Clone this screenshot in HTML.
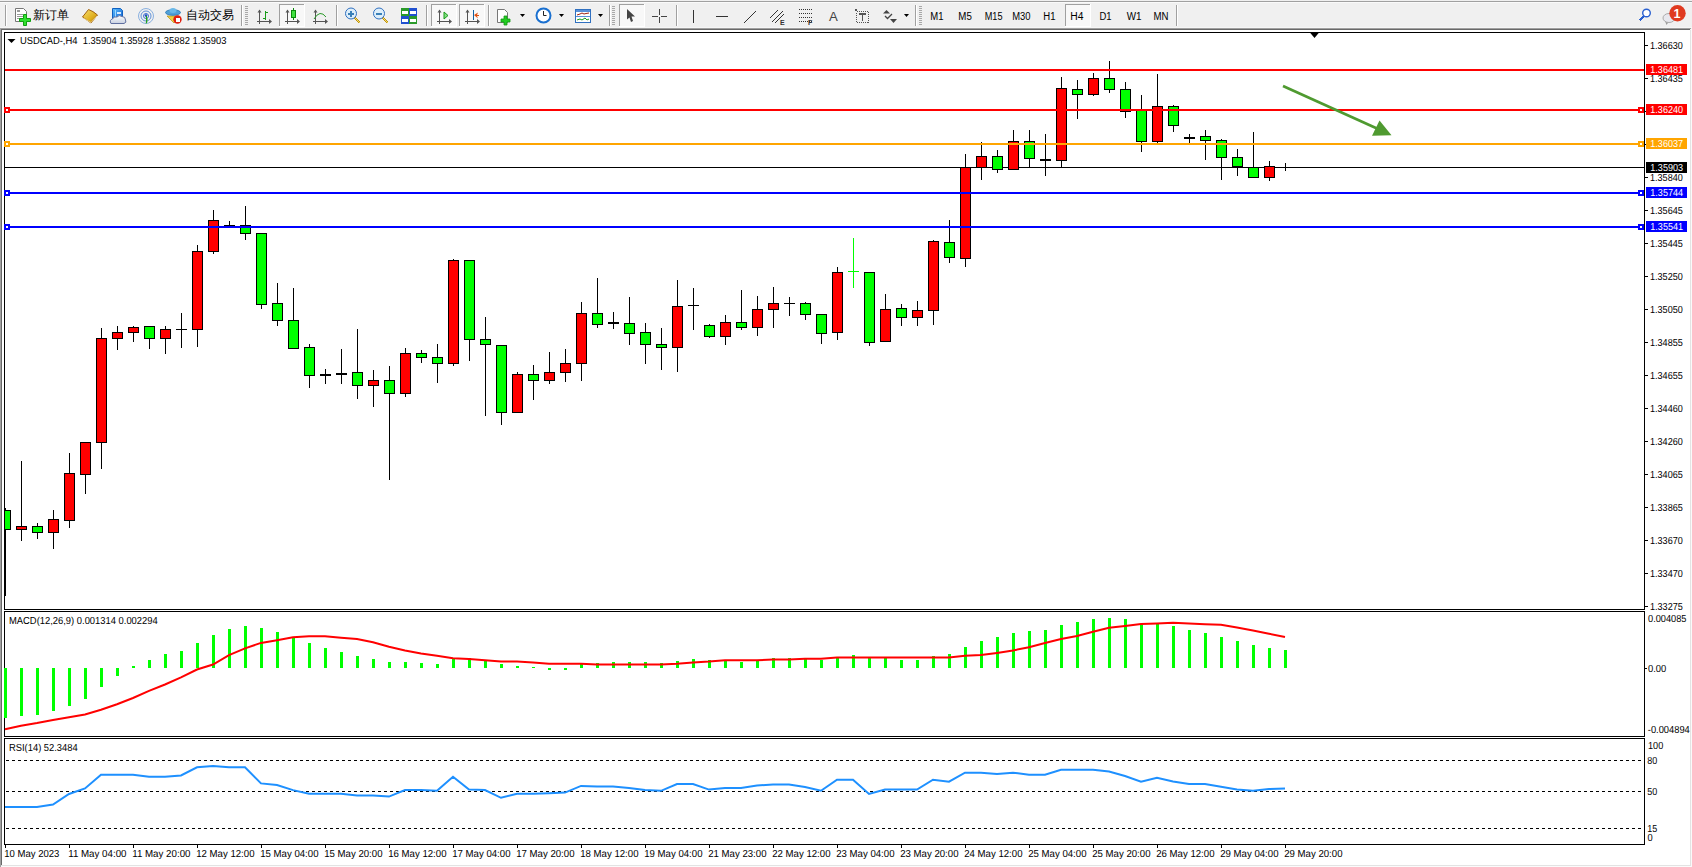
<!DOCTYPE html>
<html><head><meta charset="utf-8"><style>
html,body{margin:0;padding:0;width:1692px;height:867px;overflow:hidden;background:#fff}
svg{position:absolute;left:0;top:0;display:block}
.t{font-family:'Liberation Sans', sans-serif;font-size:10.2px;fill:#000;text-rendering:geometricPrecision}
.tb{font-family:'Liberation Sans', sans-serif;font-size:11px;fill:#000}
rect,line{shape-rendering:crispEdges}
</style></head><body>
<svg width="1692" height="867" viewBox="0 0 1692 867">
<rect x="0" y="0" width="1692" height="867" fill="#f0f0f0"/>
<rect x="0" y="1" width="1692" height="1" fill="#a0a0a0"/>
<rect x="0" y="2" width="1692" height="1" fill="#fafafa"/>
<rect x="0" y="27" width="1692" height="1" fill="#f6f6f6"/>
<rect x="0" y="28" width="1691" height="1" fill="#a0a0a0"/>
<rect x="1" y="29" width="1689" height="1" fill="#696969"/>
<rect x="2" y="30" width="1688" height="835" fill="#ffffff"/>
<rect x="0" y="28" width="1" height="839" fill="#a0a0a0"/>
<rect x="1" y="29" width="1" height="837" fill="#696969"/>
<rect x="1" y="865" width="1690" height="1" fill="#e3e3e3"/>
<rect x="1" y="866" width="1691" height="1" fill="#fbfbfb"/>
<rect x="1690" y="30" width="1" height="836" fill="#e3e3e3"/>
<rect x="1691" y="29" width="1" height="838" fill="#fafafa"/>
<rect x="4.5" y="32.5" width="1640" height="577" fill="none" stroke="#000" stroke-width="1"/>
<rect x="4.5" y="611.5" width="1640" height="125" fill="none" stroke="#000" stroke-width="1"/>
<rect x="4.5" y="738.5" width="1640" height="106" fill="none" stroke="#000" stroke-width="1"/>
<rect x="1645" y="45" width="3" height="1" fill="#000"/>
<rect x="1645" y="78" width="3" height="1" fill="#000"/>
<rect x="1645" y="111" width="3" height="1" fill="#000"/>
<rect x="1645" y="144" width="3" height="1" fill="#000"/>
<rect x="1645" y="177" width="3" height="1" fill="#000"/>
<rect x="1645" y="210" width="3" height="1" fill="#000"/>
<rect x="1645" y="243" width="3" height="1" fill="#000"/>
<rect x="1645" y="276" width="3" height="1" fill="#000"/>
<rect x="1645" y="309" width="3" height="1" fill="#000"/>
<rect x="1645" y="342" width="3" height="1" fill="#000"/>
<rect x="1645" y="375" width="3" height="1" fill="#000"/>
<rect x="1645" y="408" width="3" height="1" fill="#000"/>
<rect x="1645" y="441" width="3" height="1" fill="#000"/>
<rect x="1645" y="474" width="3" height="1" fill="#000"/>
<rect x="1645" y="507" width="3" height="1" fill="#000"/>
<rect x="1645" y="540" width="3" height="1" fill="#000"/>
<rect x="1645" y="573" width="3" height="1" fill="#000"/>
<rect x="1645" y="606" width="3" height="1" fill="#000"/>
<text x="1650" y="49" class="t" textLength="32.8" lengthAdjust="spacingAndGlyphs">1.36630</text>
<text x="1650" y="82" class="t" textLength="32.8" lengthAdjust="spacingAndGlyphs">1.36435</text>
<text x="1650" y="181" class="t" textLength="32.8" lengthAdjust="spacingAndGlyphs">1.35840</text>
<text x="1650" y="214" class="t" textLength="32.8" lengthAdjust="spacingAndGlyphs">1.35645</text>
<text x="1650" y="247" class="t" textLength="32.8" lengthAdjust="spacingAndGlyphs">1.35445</text>
<text x="1650" y="280" class="t" textLength="32.8" lengthAdjust="spacingAndGlyphs">1.35250</text>
<text x="1650" y="313" class="t" textLength="32.8" lengthAdjust="spacingAndGlyphs">1.35050</text>
<text x="1650" y="346" class="t" textLength="32.8" lengthAdjust="spacingAndGlyphs">1.34855</text>
<text x="1650" y="379" class="t" textLength="32.8" lengthAdjust="spacingAndGlyphs">1.34655</text>
<text x="1650" y="412" class="t" textLength="32.8" lengthAdjust="spacingAndGlyphs">1.34460</text>
<text x="1650" y="445" class="t" textLength="32.8" lengthAdjust="spacingAndGlyphs">1.34260</text>
<text x="1650" y="478" class="t" textLength="32.8" lengthAdjust="spacingAndGlyphs">1.34065</text>
<text x="1650" y="511" class="t" textLength="32.8" lengthAdjust="spacingAndGlyphs">1.33865</text>
<text x="1650" y="544" class="t" textLength="32.8" lengthAdjust="spacingAndGlyphs">1.33670</text>
<text x="1650" y="577" class="t" textLength="32.8" lengthAdjust="spacingAndGlyphs">1.33470</text>
<text x="1650" y="610" class="t" textLength="32.8" lengthAdjust="spacingAndGlyphs">1.33275</text>
<rect x="5" y="167" width="1639" height="1" fill="#000"/>
<rect x="5" y="508" width="1" height="88" fill="#000"/>
<rect x="4.5" y="510.5" width="6" height="19" fill="#00ff00" stroke="#000" stroke-width="1"/>
<rect x="21" y="461" width="1" height="80" fill="#000"/>
<rect x="16.5" y="526.5" width="10" height="3" fill="#ff0000" stroke="#000" stroke-width="1"/>
<rect x="37" y="523" width="1" height="16" fill="#000"/>
<rect x="32.5" y="526.5" width="10" height="6" fill="#00ff00" stroke="#000" stroke-width="1"/>
<rect x="53" y="510" width="1" height="39" fill="#000"/>
<rect x="48.5" y="519.5" width="10" height="13" fill="#ff0000" stroke="#000" stroke-width="1"/>
<rect x="69" y="453" width="1" height="75" fill="#000"/>
<rect x="64.5" y="473.5" width="10" height="47" fill="#ff0000" stroke="#000" stroke-width="1"/>
<rect x="85" y="442" width="1" height="52" fill="#000"/>
<rect x="80.5" y="442.5" width="10" height="32" fill="#ff0000" stroke="#000" stroke-width="1"/>
<rect x="101" y="328" width="1" height="141" fill="#000"/>
<rect x="96.5" y="338.5" width="10" height="104" fill="#ff0000" stroke="#000" stroke-width="1"/>
<rect x="117" y="326" width="1" height="24" fill="#000"/>
<rect x="112.5" y="332.5" width="10" height="6" fill="#ff0000" stroke="#000" stroke-width="1"/>
<rect x="133" y="326" width="1" height="16" fill="#000"/>
<rect x="128.5" y="327.5" width="10" height="5" fill="#ff0000" stroke="#000" stroke-width="1"/>
<rect x="149" y="326" width="1" height="23" fill="#000"/>
<rect x="144.5" y="326.5" width="10" height="12" fill="#00ff00" stroke="#000" stroke-width="1"/>
<rect x="165" y="326" width="1" height="28" fill="#000"/>
<rect x="160.5" y="329.5" width="10" height="9" fill="#ff0000" stroke="#000" stroke-width="1"/>
<rect x="181" y="313" width="1" height="35" fill="#000"/>
<rect x="176" y="329" width="11" height="1" fill="#000"/>
<rect x="197" y="245" width="1" height="102" fill="#000"/>
<rect x="192.5" y="251.5" width="10" height="78" fill="#ff0000" stroke="#000" stroke-width="1"/>
<rect x="213" y="210" width="1" height="44" fill="#000"/>
<rect x="208.5" y="220.5" width="10" height="31" fill="#ff0000" stroke="#000" stroke-width="1"/>
<rect x="229" y="221" width="1" height="5" fill="#000"/>
<rect x="224" y="225" width="11" height="1" fill="#000"/>
<rect x="245" y="206" width="1" height="34" fill="#000"/>
<rect x="240.5" y="225.5" width="10" height="8" fill="#00ff00" stroke="#000" stroke-width="1"/>
<rect x="261" y="233" width="1" height="76" fill="#000"/>
<rect x="256.5" y="233.5" width="10" height="71" fill="#00ff00" stroke="#000" stroke-width="1"/>
<rect x="277" y="283" width="1" height="43" fill="#000"/>
<rect x="272.5" y="303.5" width="10" height="17" fill="#00ff00" stroke="#000" stroke-width="1"/>
<rect x="293" y="288" width="1" height="61" fill="#000"/>
<rect x="288.5" y="320.5" width="10" height="28" fill="#00ff00" stroke="#000" stroke-width="1"/>
<rect x="309" y="344" width="1" height="44" fill="#000"/>
<rect x="304.5" y="347.5" width="10" height="28" fill="#00ff00" stroke="#000" stroke-width="1"/>
<rect x="325" y="369" width="1" height="15" fill="#000"/>
<rect x="320" y="374" width="11" height="2" fill="#000"/>
<rect x="341" y="349" width="1" height="35" fill="#000"/>
<rect x="336" y="373" width="11" height="2" fill="#000"/>
<rect x="357" y="329" width="1" height="70" fill="#000"/>
<rect x="352.5" y="372.5" width="10" height="13" fill="#00ff00" stroke="#000" stroke-width="1"/>
<rect x="373" y="370" width="1" height="37" fill="#000"/>
<rect x="368.5" y="380.5" width="10" height="5" fill="#ff0000" stroke="#000" stroke-width="1"/>
<rect x="389" y="366" width="1" height="114" fill="#000"/>
<rect x="384.5" y="380.5" width="10" height="13" fill="#00ff00" stroke="#000" stroke-width="1"/>
<rect x="405" y="348" width="1" height="49" fill="#000"/>
<rect x="400.5" y="353.5" width="10" height="40" fill="#ff0000" stroke="#000" stroke-width="1"/>
<rect x="421" y="350" width="1" height="13" fill="#000"/>
<rect x="416.5" y="353.5" width="10" height="4" fill="#00ff00" stroke="#000" stroke-width="1"/>
<rect x="437" y="344" width="1" height="39" fill="#000"/>
<rect x="432.5" y="357.5" width="10" height="6" fill="#00ff00" stroke="#000" stroke-width="1"/>
<rect x="453" y="259" width="1" height="107" fill="#000"/>
<rect x="448.5" y="260.5" width="10" height="103" fill="#ff0000" stroke="#000" stroke-width="1"/>
<rect x="469" y="260" width="1" height="101" fill="#000"/>
<rect x="464.5" y="260.5" width="10" height="79" fill="#00ff00" stroke="#000" stroke-width="1"/>
<rect x="485" y="317" width="1" height="99" fill="#000"/>
<rect x="480.5" y="339.5" width="10" height="5" fill="#00ff00" stroke="#000" stroke-width="1"/>
<rect x="501" y="345" width="1" height="80" fill="#000"/>
<rect x="496.5" y="345.5" width="10" height="67" fill="#00ff00" stroke="#000" stroke-width="1"/>
<rect x="517" y="372" width="1" height="41" fill="#000"/>
<rect x="512.5" y="374.5" width="10" height="38" fill="#ff0000" stroke="#000" stroke-width="1"/>
<rect x="533" y="365" width="1" height="35" fill="#000"/>
<rect x="528.5" y="374.5" width="10" height="6" fill="#00ff00" stroke="#000" stroke-width="1"/>
<rect x="549" y="352" width="1" height="32" fill="#000"/>
<rect x="544.5" y="372.5" width="10" height="8" fill="#ff0000" stroke="#000" stroke-width="1"/>
<rect x="565" y="349" width="1" height="33" fill="#000"/>
<rect x="560.5" y="363.5" width="10" height="9" fill="#ff0000" stroke="#000" stroke-width="1"/>
<rect x="581" y="302" width="1" height="79" fill="#000"/>
<rect x="576.5" y="313.5" width="10" height="50" fill="#ff0000" stroke="#000" stroke-width="1"/>
<rect x="597" y="278" width="1" height="50" fill="#000"/>
<rect x="592.5" y="313.5" width="10" height="11" fill="#00ff00" stroke="#000" stroke-width="1"/>
<rect x="613" y="312" width="1" height="17" fill="#000"/>
<rect x="608" y="322" width="11" height="2" fill="#000"/>
<rect x="629" y="297" width="1" height="48" fill="#000"/>
<rect x="624.5" y="323.5" width="10" height="10" fill="#00ff00" stroke="#000" stroke-width="1"/>
<rect x="645" y="323" width="1" height="41" fill="#000"/>
<rect x="640.5" y="332.5" width="10" height="12" fill="#00ff00" stroke="#000" stroke-width="1"/>
<rect x="661" y="328" width="1" height="42" fill="#000"/>
<rect x="656.5" y="344.5" width="10" height="3" fill="#00ff00" stroke="#000" stroke-width="1"/>
<rect x="677" y="280" width="1" height="92" fill="#000"/>
<rect x="672.5" y="306.5" width="10" height="41" fill="#ff0000" stroke="#000" stroke-width="1"/>
<rect x="693" y="288" width="1" height="42" fill="#000"/>
<rect x="688" y="305" width="11" height="1" fill="#000"/>
<rect x="709" y="324" width="1" height="14" fill="#000"/>
<rect x="704.5" y="325.5" width="10" height="11" fill="#00ff00" stroke="#000" stroke-width="1"/>
<rect x="725" y="315" width="1" height="30" fill="#000"/>
<rect x="720.5" y="322.5" width="10" height="14" fill="#ff0000" stroke="#000" stroke-width="1"/>
<rect x="741" y="290" width="1" height="40" fill="#000"/>
<rect x="736.5" y="322.5" width="10" height="5" fill="#00ff00" stroke="#000" stroke-width="1"/>
<rect x="757" y="296" width="1" height="40" fill="#000"/>
<rect x="752.5" y="309.5" width="10" height="18" fill="#ff0000" stroke="#000" stroke-width="1"/>
<rect x="773" y="287" width="1" height="41" fill="#000"/>
<rect x="768.5" y="303.5" width="10" height="6" fill="#ff0000" stroke="#000" stroke-width="1"/>
<rect x="789" y="297" width="1" height="19" fill="#000"/>
<rect x="784" y="303" width="11" height="1" fill="#000"/>
<rect x="805" y="302" width="1" height="18" fill="#000"/>
<rect x="800.5" y="303.5" width="10" height="11" fill="#00ff00" stroke="#000" stroke-width="1"/>
<rect x="821" y="314" width="1" height="30" fill="#000"/>
<rect x="816.5" y="314.5" width="10" height="19" fill="#00ff00" stroke="#000" stroke-width="1"/>
<rect x="837" y="267" width="1" height="73" fill="#000"/>
<rect x="832.5" y="272.5" width="10" height="60" fill="#ff0000" stroke="#000" stroke-width="1"/>
<rect x="853" y="238" width="1" height="50" fill="#00ff00"/>
<rect x="848" y="271" width="11" height="1" fill="#00ff00"/>
<rect x="869" y="272" width="1" height="74" fill="#000"/>
<rect x="864.5" y="272.5" width="10" height="70" fill="#00ff00" stroke="#000" stroke-width="1"/>
<rect x="885" y="294" width="1" height="48" fill="#000"/>
<rect x="880.5" y="309.5" width="10" height="32" fill="#ff0000" stroke="#000" stroke-width="1"/>
<rect x="901" y="304" width="1" height="22" fill="#000"/>
<rect x="896.5" y="308.5" width="10" height="9" fill="#00ff00" stroke="#000" stroke-width="1"/>
<rect x="917" y="301" width="1" height="25" fill="#000"/>
<rect x="912.5" y="310.5" width="10" height="7" fill="#ff0000" stroke="#000" stroke-width="1"/>
<rect x="933" y="240" width="1" height="85" fill="#000"/>
<rect x="928.5" y="241.5" width="10" height="69" fill="#ff0000" stroke="#000" stroke-width="1"/>
<rect x="949" y="220" width="1" height="43" fill="#000"/>
<rect x="944.5" y="242.5" width="10" height="15" fill="#00ff00" stroke="#000" stroke-width="1"/>
<rect x="965" y="154" width="1" height="113" fill="#000"/>
<rect x="960.5" y="167.5" width="10" height="91" fill="#ff0000" stroke="#000" stroke-width="1"/>
<rect x="981" y="142" width="1" height="38" fill="#000"/>
<rect x="976.5" y="156.5" width="10" height="11" fill="#ff0000" stroke="#000" stroke-width="1"/>
<rect x="997" y="150" width="1" height="23" fill="#000"/>
<rect x="992.5" y="156.5" width="10" height="13" fill="#00ff00" stroke="#000" stroke-width="1"/>
<rect x="1013" y="130" width="1" height="40" fill="#000"/>
<rect x="1008.5" y="141.5" width="10" height="28" fill="#ff0000" stroke="#000" stroke-width="1"/>
<rect x="1029" y="130" width="1" height="38" fill="#000"/>
<rect x="1024.5" y="141.5" width="10" height="17" fill="#00ff00" stroke="#000" stroke-width="1"/>
<rect x="1045" y="134" width="1" height="42" fill="#000"/>
<rect x="1040" y="159" width="11" height="2" fill="#000"/>
<rect x="1061" y="77" width="1" height="90" fill="#000"/>
<rect x="1056.5" y="88.5" width="10" height="72" fill="#ff0000" stroke="#000" stroke-width="1"/>
<rect x="1077" y="80" width="1" height="39" fill="#000"/>
<rect x="1072.5" y="89.5" width="10" height="5" fill="#00ff00" stroke="#000" stroke-width="1"/>
<rect x="1093" y="73" width="1" height="23" fill="#000"/>
<rect x="1088.5" y="78.5" width="10" height="16" fill="#ff0000" stroke="#000" stroke-width="1"/>
<rect x="1109" y="61" width="1" height="32" fill="#000"/>
<rect x="1104.5" y="78.5" width="10" height="11" fill="#00ff00" stroke="#000" stroke-width="1"/>
<rect x="1125" y="82" width="1" height="36" fill="#000"/>
<rect x="1120.5" y="89.5" width="10" height="22" fill="#00ff00" stroke="#000" stroke-width="1"/>
<rect x="1141" y="95" width="1" height="57" fill="#000"/>
<rect x="1136.5" y="110.5" width="10" height="31" fill="#00ff00" stroke="#000" stroke-width="1"/>
<rect x="1157" y="74" width="1" height="69" fill="#000"/>
<rect x="1152.5" y="106.5" width="10" height="35" fill="#ff0000" stroke="#000" stroke-width="1"/>
<rect x="1173" y="105" width="1" height="27" fill="#000"/>
<rect x="1168.5" y="106.5" width="10" height="19" fill="#00ff00" stroke="#000" stroke-width="1"/>
<rect x="1189" y="134" width="1" height="9" fill="#000"/>
<rect x="1184" y="137" width="11" height="2" fill="#000"/>
<rect x="1205" y="130" width="1" height="30" fill="#000"/>
<rect x="1200.5" y="136.5" width="10" height="4" fill="#00ff00" stroke="#000" stroke-width="1"/>
<rect x="1221" y="139" width="1" height="41" fill="#000"/>
<rect x="1216.5" y="140.5" width="10" height="17" fill="#00ff00" stroke="#000" stroke-width="1"/>
<rect x="1237" y="149" width="1" height="27" fill="#000"/>
<rect x="1232.5" y="157.5" width="10" height="9" fill="#00ff00" stroke="#000" stroke-width="1"/>
<rect x="1253" y="132" width="1" height="46" fill="#000"/>
<rect x="1248.5" y="167.5" width="10" height="10" fill="#00ff00" stroke="#000" stroke-width="1"/>
<rect x="1269" y="161" width="1" height="20" fill="#000"/>
<rect x="1264.5" y="166.5" width="10" height="11" fill="#ff0000" stroke="#000" stroke-width="1"/>
<rect x="1285" y="163" width="1" height="8" fill="#000"/>
<rect x="1280" y="167" width="11" height="1" fill="#000"/>
<rect x="5" y="69" width="1639" height="2" fill="#ff0000"/>
<rect x="1646" y="64" width="41" height="11" fill="#ff0000"/>
<text x="1650.3" y="73" class="t" style="fill:#fff" textLength="32.8" lengthAdjust="spacingAndGlyphs">1.36481</text>
<rect x="5" y="109" width="1639" height="2" fill="#ff0000"/>
<rect x="4" y="107" width="6" height="6" fill="#ff0000"/>
<rect x="6" y="109" width="2" height="2" fill="#fff"/>
<rect x="1638" y="107" width="6" height="6" fill="#ff0000"/>
<rect x="1640" y="109" width="2" height="2" fill="#fff"/>
<rect x="1646" y="104" width="41" height="11" fill="#ff0000"/>
<text x="1650.3" y="113" class="t" style="fill:#fff" textLength="32.8" lengthAdjust="spacingAndGlyphs">1.36240</text>
<rect x="5" y="143" width="1639" height="2" fill="#ffa500"/>
<rect x="4" y="141" width="6" height="6" fill="#ffa500"/>
<rect x="6" y="143" width="2" height="2" fill="#fff"/>
<rect x="1638" y="141" width="6" height="6" fill="#ffa500"/>
<rect x="1640" y="143" width="2" height="2" fill="#fff"/>
<rect x="1646" y="138" width="41" height="11" fill="#ffa500"/>
<text x="1650.3" y="147" class="t" style="fill:#fff" textLength="32.8" lengthAdjust="spacingAndGlyphs">1.36037</text>
<rect x="1646" y="162" width="41" height="11" fill="#000"/>
<text x="1650.3" y="171" class="t" style="fill:#fff" textLength="32.8" lengthAdjust="spacingAndGlyphs">1.35903</text>
<rect x="5" y="192" width="1639" height="2" fill="#0000ff"/>
<rect x="4" y="190" width="6" height="6" fill="#0000ff"/>
<rect x="6" y="192" width="2" height="2" fill="#fff"/>
<rect x="1638" y="190" width="6" height="6" fill="#0000ff"/>
<rect x="1640" y="192" width="2" height="2" fill="#fff"/>
<rect x="1646" y="187" width="41" height="11" fill="#0000ff"/>
<text x="1650.3" y="196" class="t" style="fill:#fff" textLength="32.8" lengthAdjust="spacingAndGlyphs">1.35744</text>
<rect x="5" y="226" width="1639" height="2" fill="#0000ff"/>
<rect x="4" y="224" width="6" height="6" fill="#0000ff"/>
<rect x="6" y="226" width="2" height="2" fill="#fff"/>
<rect x="1638" y="224" width="6" height="6" fill="#0000ff"/>
<rect x="1640" y="226" width="2" height="2" fill="#fff"/>
<rect x="1646" y="221" width="41" height="11" fill="#0000ff"/>
<text x="1650.3" y="230" class="t" style="fill:#fff" textLength="32.8" lengthAdjust="spacingAndGlyphs">1.35541</text>
<line x1="1283" y1="86" x2="1377" y2="128.5" stroke="#4f9a30" stroke-width="2.7" style="shape-rendering:geometricPrecision"/>
<polygon points="1379.5,120.5 1372,135.8 1391.5,135.3" fill="#4f9a30"/>
<polygon points="1309.5,32 1319.5,32 1314.5,38" fill="#000"/>
<polygon points="7.5,39 15.5,39 11.5,43" fill="#000"/>
<text x="20" y="44" class="t" textLength="206.5" lengthAdjust="spacingAndGlyphs">USDCAD-,H4&#160;&#160;1.35904 1.35928 1.35882 1.35903</text>
<rect x="4" y="668" width="3" height="50" fill="#00ff00"/>
<rect x="20" y="668" width="3" height="48" fill="#00ff00"/>
<rect x="36" y="668" width="3" height="47" fill="#00ff00"/>
<rect x="52" y="668" width="3" height="43" fill="#00ff00"/>
<rect x="68" y="668" width="3" height="38" fill="#00ff00"/>
<rect x="84" y="668" width="3" height="31" fill="#00ff00"/>
<rect x="100" y="668" width="3" height="19" fill="#00ff00"/>
<rect x="116" y="668" width="3" height="8" fill="#00ff00"/>
<rect x="132" y="666" width="3" height="2" fill="#00ff00"/>
<rect x="148" y="660" width="3" height="8" fill="#00ff00"/>
<rect x="164" y="654" width="3" height="14" fill="#00ff00"/>
<rect x="180" y="651" width="3" height="17" fill="#00ff00"/>
<rect x="196" y="643" width="3" height="25" fill="#00ff00"/>
<rect x="212" y="635" width="3" height="33" fill="#00ff00"/>
<rect x="228" y="629" width="3" height="39" fill="#00ff00"/>
<rect x="244" y="626" width="3" height="42" fill="#00ff00"/>
<rect x="260" y="628" width="3" height="40" fill="#00ff00"/>
<rect x="276" y="632" width="3" height="36" fill="#00ff00"/>
<rect x="292" y="637" width="3" height="31" fill="#00ff00"/>
<rect x="308" y="643" width="3" height="25" fill="#00ff00"/>
<rect x="324" y="648" width="3" height="20" fill="#00ff00"/>
<rect x="340" y="652" width="3" height="16" fill="#00ff00"/>
<rect x="356" y="656" width="3" height="12" fill="#00ff00"/>
<rect x="372" y="659" width="3" height="9" fill="#00ff00"/>
<rect x="388" y="662" width="3" height="6" fill="#00ff00"/>
<rect x="404" y="662" width="3" height="6" fill="#00ff00"/>
<rect x="420" y="663" width="3" height="5" fill="#00ff00"/>
<rect x="436" y="664" width="3" height="4" fill="#00ff00"/>
<rect x="452" y="658" width="3" height="10" fill="#00ff00"/>
<rect x="468" y="658" width="3" height="10" fill="#00ff00"/>
<rect x="484" y="660" width="3" height="8" fill="#00ff00"/>
<rect x="500" y="664" width="3" height="4" fill="#00ff00"/>
<rect x="516" y="666" width="3" height="2" fill="#00ff00"/>
<rect x="532" y="667" width="3" height="1" fill="#00ff00"/>
<rect x="548" y="668" width="3" height="2" fill="#00ff00"/>
<rect x="564" y="668" width="3" height="2" fill="#00ff00"/>
<rect x="580" y="664" width="3" height="4" fill="#00ff00"/>
<rect x="596" y="663" width="3" height="5" fill="#00ff00"/>
<rect x="612" y="662" width="3" height="6" fill="#00ff00"/>
<rect x="628" y="662" width="3" height="6" fill="#00ff00"/>
<rect x="644" y="662" width="3" height="6" fill="#00ff00"/>
<rect x="660" y="663" width="3" height="5" fill="#00ff00"/>
<rect x="676" y="661" width="3" height="7" fill="#00ff00"/>
<rect x="692" y="659" width="3" height="9" fill="#00ff00"/>
<rect x="708" y="660" width="3" height="8" fill="#00ff00"/>
<rect x="724" y="660" width="3" height="8" fill="#00ff00"/>
<rect x="740" y="662" width="3" height="6" fill="#00ff00"/>
<rect x="756" y="660" width="3" height="8" fill="#00ff00"/>
<rect x="772" y="658" width="3" height="10" fill="#00ff00"/>
<rect x="788" y="658" width="3" height="10" fill="#00ff00"/>
<rect x="804" y="658" width="3" height="10" fill="#00ff00"/>
<rect x="820" y="660" width="3" height="8" fill="#00ff00"/>
<rect x="836" y="657" width="3" height="11" fill="#00ff00"/>
<rect x="852" y="655" width="3" height="13" fill="#00ff00"/>
<rect x="868" y="658" width="3" height="10" fill="#00ff00"/>
<rect x="884" y="658" width="3" height="10" fill="#00ff00"/>
<rect x="900" y="660" width="3" height="8" fill="#00ff00"/>
<rect x="916" y="660" width="3" height="8" fill="#00ff00"/>
<rect x="932" y="656" width="3" height="12" fill="#00ff00"/>
<rect x="948" y="654" width="3" height="14" fill="#00ff00"/>
<rect x="964" y="647" width="3" height="21" fill="#00ff00"/>
<rect x="980" y="641" width="3" height="27" fill="#00ff00"/>
<rect x="996" y="637" width="3" height="31" fill="#00ff00"/>
<rect x="1012" y="633" width="3" height="35" fill="#00ff00"/>
<rect x="1028" y="631" width="3" height="37" fill="#00ff00"/>
<rect x="1044" y="630" width="3" height="38" fill="#00ff00"/>
<rect x="1060" y="625" width="3" height="43" fill="#00ff00"/>
<rect x="1076" y="622" width="3" height="46" fill="#00ff00"/>
<rect x="1092" y="619" width="3" height="49" fill="#00ff00"/>
<rect x="1108" y="618" width="3" height="50" fill="#00ff00"/>
<rect x="1124" y="619" width="3" height="49" fill="#00ff00"/>
<rect x="1140" y="624" width="3" height="44" fill="#00ff00"/>
<rect x="1156" y="624" width="3" height="44" fill="#00ff00"/>
<rect x="1172" y="626" width="3" height="42" fill="#00ff00"/>
<rect x="1188" y="630" width="3" height="38" fill="#00ff00"/>
<rect x="1204" y="633" width="3" height="35" fill="#00ff00"/>
<rect x="1220" y="637" width="3" height="31" fill="#00ff00"/>
<rect x="1236" y="641" width="3" height="27" fill="#00ff00"/>
<rect x="1252" y="645" width="3" height="23" fill="#00ff00"/>
<rect x="1268" y="648" width="3" height="20" fill="#00ff00"/>
<rect x="1284" y="650" width="3" height="18" fill="#00ff00"/>
<polyline points="5,729.2 21,725.7 37,723 53,719.9 69,717.2 85,714.4 101,709.8 117,704.3 133,698 149,690.9 165,684.5 181,677.3 197,669.5 213,664.5 229,655.1 245,648.4 261,642.9 277,640.2 293,637.2 309,636.2 325,636.2 341,637.7 357,639 373,642.2 389,646.7 405,650.4 421,653.4 437,655.8 453,658.3 469,659 485,660.3 501,661.6 517,661.6 533,662.5 549,663.8 565,663.8 581,663.8 597,664.5 613,664.5 629,664.5 645,664.5 661,664.5 677,663.8 693,662.5 709,661.6 725,660.3 741,660.3 757,660.3 773,659.6 789,659.6 805,658.8 821,658.8 837,657.6 853,657.6 869,657.6 885,657.6 901,657.6 917,657.6 933,657.6 949,657.6 965,655.8 981,655.1 997,652.9 1013,650.4 1029,647.2 1045,643 1061,639 1077,636 1093,631.8 1109,627.8 1125,626.1 1141,624.1 1157,623.6 1173,622.8 1189,623.6 1205,624.3 1221,624.7 1237,627.6 1253,630.5 1269,633.7 1285,636.9" fill="none" stroke="#ff0000" stroke-width="2"/>
<text x="9" y="624" class="t" textLength="148.7" lengthAdjust="spacingAndGlyphs">MACD(12,26,9) 0.001314 0.002294</text>
<rect x="1645" y="668" width="2" height="1" fill="#000"/>
<text x="1648" y="622" class="t" textLength="38.5" lengthAdjust="spacingAndGlyphs">0.004085</text>
<text x="1648" y="672" class="t" textLength="18.3" lengthAdjust="spacingAndGlyphs">0.00</text>
<text x="1647.8" y="733" class="t" textLength="42" lengthAdjust="spacingAndGlyphs">-0.004894</text>
<line x1="6" y1="760.5" x2="1642" y2="760.5" stroke="#000" stroke-width="1" stroke-dasharray="3,3"/>
<line x1="6" y1="791.5" x2="1642" y2="791.5" stroke="#000" stroke-width="1" stroke-dasharray="3,3"/>
<line x1="6" y1="828.5" x2="1642" y2="828.5" stroke="#000" stroke-width="1" stroke-dasharray="3,3"/>
<polyline points="5,807 21,807 37,807 53,804.5 69,794 85,788.4 101,774.7 117,774.7 133,774.7 149,776.7 165,776.7 181,775.5 197,767.3 213,766 229,767.3 245,767.3 261,783.4 277,785.1 293,790.1 309,793.8 325,793.8 341,793.8 357,795.5 373,795.5 389,796.6 405,790.1 421,790.1 437,790.8 453,776.7 469,789.6 485,790.1 501,797.8 517,793.8 533,793.8 549,793.3 565,792.6 581,785.9 597,786.6 613,786.6 629,787.9 645,790.1 661,790.8 677,784.1 693,784.1 709,789.6 725,787.9 741,787.9 757,785.4 773,784.6 789,784.6 805,787.1 821,790.8 837,779.7 853,779.7 869,794 885,789.6 901,789.6 917,789.6 933,779.7 949,781.7 965,772.7 981,772.7 997,774 1013,772.7 1029,774.7 1045,774.7 1061,769.7 1077,769.7 1093,769.7 1109,771.5 1125,776 1141,781.7 1157,777.7 1173,781.4 1189,783.9 1205,784.1 1221,786.8 1237,789.4 1253,790.8 1269,789.1 1285,788.5" fill="none" stroke="#1e90ff" stroke-width="2"/>
<text x="9" y="751" class="t" textLength="68.7" lengthAdjust="spacingAndGlyphs">RSI(14) 52.3484</text>
<text x="1648" y="749" class="t" textLength="15.2" lengthAdjust="spacingAndGlyphs">100</text>
<text x="1647.3" y="764" class="t" textLength="10" lengthAdjust="spacingAndGlyphs">80</text>
<text x="1647.3" y="795" class="t" textLength="10" lengthAdjust="spacingAndGlyphs">50</text>
<text x="1647.3" y="832" class="t" textLength="10" lengthAdjust="spacingAndGlyphs">15</text>
<text x="1647.5" y="841" class="t" textLength="5.2" lengthAdjust="spacingAndGlyphs">0</text>
<rect x="5" y="845" width="1" height="3" fill="#000"/>
<text x="4.2" y="857" class="t" textLength="55.2" lengthAdjust="spacingAndGlyphs">10 May 2023</text>
<rect x="69" y="845" width="1" height="3" fill="#000"/>
<text x="68.2" y="857" class="t" textLength="58.3" lengthAdjust="spacingAndGlyphs">11 May 04:00</text>
<rect x="133" y="845" width="1" height="3" fill="#000"/>
<text x="132.2" y="857" class="t" textLength="58.3" lengthAdjust="spacingAndGlyphs">11 May 20:00</text>
<rect x="197" y="845" width="1" height="3" fill="#000"/>
<text x="196.2" y="857" class="t" textLength="58.3" lengthAdjust="spacingAndGlyphs">12 May 12:00</text>
<rect x="261" y="845" width="1" height="3" fill="#000"/>
<text x="260.2" y="857" class="t" textLength="58.3" lengthAdjust="spacingAndGlyphs">15 May 04:00</text>
<rect x="325" y="845" width="1" height="3" fill="#000"/>
<text x="324.2" y="857" class="t" textLength="58.3" lengthAdjust="spacingAndGlyphs">15 May 20:00</text>
<rect x="389" y="845" width="1" height="3" fill="#000"/>
<text x="388.2" y="857" class="t" textLength="58.3" lengthAdjust="spacingAndGlyphs">16 May 12:00</text>
<rect x="453" y="845" width="1" height="3" fill="#000"/>
<text x="452.2" y="857" class="t" textLength="58.3" lengthAdjust="spacingAndGlyphs">17 May 04:00</text>
<rect x="517" y="845" width="1" height="3" fill="#000"/>
<text x="516.2" y="857" class="t" textLength="58.3" lengthAdjust="spacingAndGlyphs">17 May 20:00</text>
<rect x="581" y="845" width="1" height="3" fill="#000"/>
<text x="580.2" y="857" class="t" textLength="58.3" lengthAdjust="spacingAndGlyphs">18 May 12:00</text>
<rect x="645" y="845" width="1" height="3" fill="#000"/>
<text x="644.2" y="857" class="t" textLength="58.3" lengthAdjust="spacingAndGlyphs">19 May 04:00</text>
<rect x="709" y="845" width="1" height="3" fill="#000"/>
<text x="708.2" y="857" class="t" textLength="58.3" lengthAdjust="spacingAndGlyphs">21 May 23:00</text>
<rect x="773" y="845" width="1" height="3" fill="#000"/>
<text x="772.2" y="857" class="t" textLength="58.3" lengthAdjust="spacingAndGlyphs">22 May 12:00</text>
<rect x="837" y="845" width="1" height="3" fill="#000"/>
<text x="836.2" y="857" class="t" textLength="58.3" lengthAdjust="spacingAndGlyphs">23 May 04:00</text>
<rect x="901" y="845" width="1" height="3" fill="#000"/>
<text x="900.2" y="857" class="t" textLength="58.3" lengthAdjust="spacingAndGlyphs">23 May 20:00</text>
<rect x="965" y="845" width="1" height="3" fill="#000"/>
<text x="964.2" y="857" class="t" textLength="58.3" lengthAdjust="spacingAndGlyphs">24 May 12:00</text>
<rect x="1029" y="845" width="1" height="3" fill="#000"/>
<text x="1028.2" y="857" class="t" textLength="58.3" lengthAdjust="spacingAndGlyphs">25 May 04:00</text>
<rect x="1093" y="845" width="1" height="3" fill="#000"/>
<text x="1092.2" y="857" class="t" textLength="58.3" lengthAdjust="spacingAndGlyphs">25 May 20:00</text>
<rect x="1157" y="845" width="1" height="3" fill="#000"/>
<text x="1156.2" y="857" class="t" textLength="58.3" lengthAdjust="spacingAndGlyphs">26 May 12:00</text>
<rect x="1221" y="845" width="1" height="3" fill="#000"/>
<text x="1220.2" y="857" class="t" textLength="58.3" lengthAdjust="spacingAndGlyphs">29 May 04:00</text>
<rect x="1285" y="845" width="1" height="3" fill="#000"/>
<text x="1284.2" y="857" class="t" textLength="58.3" lengthAdjust="spacingAndGlyphs">29 May 20:00</text>
<rect x="5" y="5" width="1" height="21" fill="#a0a0a0"/>
<rect x="6" y="5" width="1" height="21" fill="#ffffff"/>
<path d="M15.5,8.5 h8 l3,3 v10 h-11 z" fill="#fff" stroke="#777" stroke-width="1"/>
<rect x="17" y="10" width="3" height="2" fill="#999"/><rect x="17" y="14" width="6" height="1" fill="#999"/><rect x="17" y="16" width="6" height="1" fill="#999"/><rect x="17" y="18" width="4" height="1" fill="#999"/>
<path d="M23.5,14.5 h3 v4 h4 v3 h-4 v4 h-3 v-4 h-4 v-3 h4 z" fill="#30e030" stroke="#10a010" stroke-width="1"/>
<text x="33" y="18.8" style="font-family:'Liberation Sans', sans-serif;font-size:12px;fill:#000">新订单</text>
<defs><linearGradient id="gb" x1="0" y1="0" x2="1" y2="1"><stop offset="0" stop-color="#f8e070"/><stop offset="0.6" stop-color="#e0b020"/><stop offset="1" stop-color="#b07010"/></linearGradient><linearGradient id="gc" x1="0" y1="0" x2="0" y2="1"><stop offset="0" stop-color="#ffffff"/><stop offset="1" stop-color="#c8d0e0"/></linearGradient><linearGradient id="gq" x1="0" y1="0" x2="1" y2="1"><stop offset="0" stop-color="#60c0ff"/><stop offset="1" stop-color="#1060d0"/></linearGradient></defs>
<path d="M82.5,17 L88.5,9.5 Q93,11 97.5,15 L91,23 Z" fill="url(#gb)" stroke="#a06010" stroke-width="1"/>
<path d="M84,18.5 L91,22.5 L97,16" fill="none" stroke="#fff3c0" stroke-width="0.7"/>
<path d="M112.5,8.5 h8 l2,2 v8 h-10 z" fill="url(#gq)" stroke="#1060c0" stroke-width="1"/>
<rect x="117" y="12" width="4" height="1.5" fill="#d8ecff"/><rect x="115" y="10" width="1" height="7" fill="#a0d8ff"/>
<path d="M111,23.5 Q109,20 112.5,19 Q113.5,16 117,17 Q119,14.5 122,16.5 Q125.5,16.5 125.5,20 Q127,22.5 124,23.5 Z" fill="url(#gc)" stroke="#6070a0" stroke-width="1"/>
<circle cx="146" cy="16" r="7.5" fill="none" stroke="#8ab0e0" stroke-width="1"/>
<circle cx="146" cy="16" r="5" fill="none" stroke="#6090d8" stroke-width="1"/>
<circle cx="146" cy="16" r="2.5" fill="none" stroke="#4070d0" stroke-width="1"/>
<path d="M146,16 A7.5,7.5 0 0 1 146,23.5" fill="none" stroke="#50b050" stroke-width="1.2"/>
<circle cx="146" cy="15.5" r="1.3" fill="#2050c0"/>
<rect x="146" y="16" width="1" height="7" fill="#20a020"/>
<path d="M167,16 L179,16 L174,23 Z" fill="#f0d040" stroke="#b09020" stroke-width="0.7"/>
<ellipse cx="173" cy="12.5" rx="7.5" ry="2.8" fill="#50a0d8" stroke="#2070b0" stroke-width="0.8"/>
<ellipse cx="173" cy="10.5" rx="3.5" ry="2.5" fill="#6ab8e8"/>
<circle cx="177.5" cy="19.5" r="4.2" fill="#e02010"/>
<rect x="175.5" y="17.5" width="4" height="4" fill="#fff"/>
<text x="186" y="18.8" style="font-family:'Liberation Sans', sans-serif;font-size:12px;fill:#000">自动交易</text>
<rect x="241" y="5" width="1" height="21" fill="#a0a0a0"/>
<rect x="242" y="5" width="1" height="21" fill="#ffffff"/>
<rect x="245" y="6" width="3" height="1" fill="#a8a8a8"/>
<rect x="245" y="8" width="3" height="1" fill="#a8a8a8"/>
<rect x="245" y="10" width="3" height="1" fill="#a8a8a8"/>
<rect x="245" y="12" width="3" height="1" fill="#a8a8a8"/>
<rect x="245" y="14" width="3" height="1" fill="#a8a8a8"/>
<rect x="245" y="16" width="3" height="1" fill="#a8a8a8"/>
<rect x="245" y="18" width="3" height="1" fill="#a8a8a8"/>
<rect x="245" y="20" width="3" height="1" fill="#a8a8a8"/>
<rect x="245" y="22" width="3" height="1" fill="#a8a8a8"/>
<rect x="245" y="24" width="3" height="1" fill="#a8a8a8"/>
<rect x="259" y="10" width="1" height="14" fill="#555"/>
<rect x="257" y="21" width="14" height="1" fill="#555"/>
<polygon points="257.5,12.5 259.5,9.5 261.5,12.5" fill="#555"/>
<polygon points="269,19 272,21.5 269,24" fill="#555"/>
<rect x="265" y="11" width="1" height="9" fill="#1a9a1a"/><rect x="263" y="18" width="2" height="1" fill="#1a9a1a"/><rect x="266" y="12" width="2" height="1" fill="#1a9a1a"/>
<rect x="279" y="4" width="25" height="22" fill="#f8f8f8"/>
<rect x="279" y="4" width="25" height="1" fill="#a0a0a0"/>
<rect x="279" y="4" width="1" height="22" fill="#a0a0a0"/>
<rect x="279" y="26" width="26" height="1" fill="#ffffff"/>
<rect x="304" y="4" width="1" height="23" fill="#ffffff"/>
<rect x="287" y="10" width="1" height="14" fill="#555"/>
<rect x="285" y="21" width="14" height="1" fill="#555"/>
<polygon points="285.5,12.5 287.5,9.5 289.5,12.5" fill="#555"/>
<polygon points="297,19 300,21.5 297,24" fill="#555"/>
<rect x="293" y="8" width="1" height="12" fill="#0a8a0a"/>
<rect x="291.5" y="10.5" width="4" height="7" fill="#40e040" stroke="#0a8a0a" stroke-width="1"/>
<rect x="315" y="10" width="1" height="14" fill="#555"/>
<rect x="313" y="21" width="14" height="1" fill="#555"/>
<polygon points="313.5,12.5 315.5,9.5 317.5,12.5" fill="#555"/>
<polygon points="325,19 328,21.5 325,24" fill="#555"/>
<path d="M314,19 Q320,9 326,17" fill="none" stroke="#2a9a2a" stroke-width="1"/>
<rect x="336" y="5" width="1" height="21" fill="#a0a0a0"/>
<rect x="337" y="5" width="1" height="21" fill="#ffffff"/>
<line x1="355" y1="18" x2="360" y2="23" stroke="#c09010" stroke-width="2.6"/>
<line x1="355" y1="18" x2="360" y2="23" stroke="#f0e070" stroke-width="1.2"/>
<circle cx="351" cy="13.5" r="5.5" fill="#ddeefa" stroke="#3070c0" stroke-width="1"/>
<rect x="348" y="13" width="6" height="1.6" fill="#3a80b8"/>
<rect x="350.2" y="10.8" width="1.6" height="6" fill="#3a80b8"/>
<line x1="383" y1="18" x2="388" y2="23" stroke="#c09010" stroke-width="2.6"/>
<line x1="383" y1="18" x2="388" y2="23" stroke="#f0e070" stroke-width="1.2"/>
<circle cx="379" cy="13.5" r="5.5" fill="#ddeefa" stroke="#3070c0" stroke-width="1"/>
<rect x="376" y="13" width="6" height="1.6" fill="#3a80b8"/>
<rect x="401" y="8" width="8" height="8" fill="#2a9a2a"/><rect x="409" y="8" width="8" height="8" fill="#2050d0"/>
<rect x="401" y="16" width="8" height="8" fill="#2050d0"/><rect x="409" y="16" width="8" height="8" fill="#2a9a2a"/>
<rect x="402" y="11" width="6" height="3" fill="#fff"/>
<rect x="410" y="11" width="6" height="3" fill="#fff"/>
<rect x="402" y="19" width="6" height="3" fill="#fff"/>
<rect x="410" y="19" width="6" height="3" fill="#fff"/>
<rect x="426" y="5" width="1" height="21" fill="#a0a0a0"/>
<rect x="427" y="5" width="1" height="21" fill="#ffffff"/>
<rect x="431" y="4" width="25" height="22" fill="#f8f8f8"/>
<rect x="431" y="4" width="25" height="1" fill="#a0a0a0"/>
<rect x="431" y="4" width="1" height="22" fill="#a0a0a0"/>
<rect x="431" y="26" width="26" height="1" fill="#ffffff"/>
<rect x="456" y="4" width="1" height="23" fill="#ffffff"/>
<rect x="439" y="10" width="1" height="14" fill="#555"/>
<rect x="437" y="21" width="14" height="1" fill="#555"/>
<polygon points="437.5,12.5 439.5,9.5 441.5,12.5" fill="#555"/>
<polygon points="449,19 452,21.5 449,24" fill="#555"/>
<polygon points="444,12 448,15.5 444,19" fill="#80e080" stroke="#1a9a1a" stroke-width="1"/>
<rect x="459" y="4" width="25" height="22" fill="#f8f8f8"/>
<rect x="459" y="4" width="25" height="1" fill="#a0a0a0"/>
<rect x="459" y="4" width="1" height="22" fill="#a0a0a0"/>
<rect x="459" y="26" width="26" height="1" fill="#ffffff"/>
<rect x="484" y="4" width="1" height="23" fill="#ffffff"/>
<rect x="467" y="10" width="1" height="14" fill="#555"/>
<rect x="465" y="21" width="14" height="1" fill="#555"/>
<polygon points="465.5,12.5 467.5,9.5 469.5,12.5" fill="#555"/>
<polygon points="477,19 480,21.5 477,24" fill="#555"/>
<rect x="473" y="10" width="1" height="10" fill="#1060a0"/>
<polygon points="474,15 478,12.5 477,15 479,15 479,16 477,16 478,18.5" fill="#e05010"/>
<rect x="488" y="5" width="1" height="21" fill="#a0a0a0"/>
<rect x="489" y="5" width="1" height="21" fill="#ffffff"/>
<path d="M497.5,9.5 h7 l3,3 v10 h-10 z" fill="#fff" stroke="#777" stroke-width="1"/>
<path d="M504,16 h3 v3 h3 v3 h-3 v3 h-3 v-3 h-3 v-3 h3 z" fill="#22cc22" stroke="#119911" stroke-width="0.8"/>
<polygon points="520,14 525,14 522.5,17" fill="#000"/>
<circle cx="543.5" cy="15.5" r="7" fill="#fff" stroke="#1a70d0" stroke-width="2"/>
<path d="M543.5,11 v4.5 h3" fill="none" stroke="#222" stroke-width="1"/>
<polygon points="559,14 564,14 561.5,17" fill="#000"/>
<rect x="575.5" y="9.5" width="15" height="13" fill="#fff" stroke="#3070c0" stroke-width="1"/>
<rect x="576" y="10" width="14" height="2" fill="#5a90d8"/>
<rect x="576" y="16" width="14" height="1" fill="#5a90d8"/>
<polyline points="577,15 580,14 582,13 584,14 586,13.5 589,13" fill="none" stroke="#a02010" stroke-width="1"/>
<polyline points="577,20 580,19 582,20 585,18 587,20 589,19" fill="none" stroke="#1a9a1a" stroke-width="1"/>
<polygon points="598,14 603,14 600.5,17" fill="#000"/>
<rect x="609" y="5" width="1" height="21" fill="#a0a0a0"/>
<rect x="610" y="5" width="1" height="21" fill="#ffffff"/>
<rect x="612" y="6" width="3" height="1" fill="#a8a8a8"/>
<rect x="612" y="8" width="3" height="1" fill="#a8a8a8"/>
<rect x="612" y="10" width="3" height="1" fill="#a8a8a8"/>
<rect x="612" y="12" width="3" height="1" fill="#a8a8a8"/>
<rect x="612" y="14" width="3" height="1" fill="#a8a8a8"/>
<rect x="612" y="16" width="3" height="1" fill="#a8a8a8"/>
<rect x="612" y="18" width="3" height="1" fill="#a8a8a8"/>
<rect x="612" y="20" width="3" height="1" fill="#a8a8a8"/>
<rect x="612" y="22" width="3" height="1" fill="#a8a8a8"/>
<rect x="612" y="24" width="3" height="1" fill="#a8a8a8"/>
<rect x="619" y="4" width="25" height="22" fill="#f8f8f8"/>
<rect x="619" y="4" width="25" height="1" fill="#a0a0a0"/>
<rect x="619" y="4" width="1" height="22" fill="#a0a0a0"/>
<rect x="619" y="26" width="26" height="1" fill="#ffffff"/>
<rect x="644" y="4" width="1" height="23" fill="#ffffff"/>
<polygon points="627,9 635,16.5 631.5,16.5 633,21 631,22 629.5,17.5 627,19.5" fill="#444"/>
<rect x="659" y="9" width="1" height="6" fill="#444"/><rect x="659" y="17" width="1" height="6" fill="#444"/><rect x="652" y="16" width="6" height="1" fill="#444"/><rect x="661" y="16" width="6" height="1" fill="#444"/>
<rect x="676" y="5" width="1" height="21" fill="#a0a0a0"/>
<rect x="677" y="5" width="1" height="21" fill="#ffffff"/>
<rect x="693" y="10" width="1" height="13" fill="#333"/>
<rect x="716" y="16" width="12" height="1" fill="#333"/>
<line x1="744" y1="23" x2="756" y2="11" stroke="#333" stroke-width="1"/>
<line x1="770" y1="18" x2="778" y2="10" stroke="#333" stroke-width="1"/>
<line x1="772" y1="22" x2="783" y2="11" stroke="#333" stroke-width="1.3"/>
<line x1="775" y1="23" x2="784" y2="14" stroke="#333" stroke-width="1"/>
<text x="780" y="25" style="font-family:'Liberation Sans', sans-serif;font-size:7px;font-weight:bold;fill:#333">E</text>
<line x1="799" y1="9.5" x2="813" y2="9.5" stroke="#333" stroke-width="1" stroke-dasharray="1,1"/>
<line x1="799" y1="13.5" x2="813" y2="13.5" stroke="#333" stroke-width="1" stroke-dasharray="1,1"/>
<line x1="799" y1="17.5" x2="813" y2="17.5" stroke="#333" stroke-width="1" stroke-dasharray="1,1"/>
<line x1="799" y1="21.5" x2="813" y2="21.5" stroke="#333" stroke-width="1" stroke-dasharray="1,1"/>
<text x="808" y="25" style="font-family:'Liberation Sans', sans-serif;font-size:7px;font-weight:bold;fill:#333">F</text>
<text x="829" y="21" textLength="8.8" lengthAdjust="spacingAndGlyphs" style="font-family:'Liberation Sans', sans-serif;font-size:12.5px;fill:#444">A</text>
<rect x="856.5" y="11.5" width="12" height="11" fill="none" stroke="#555" stroke-width="1" stroke-dasharray="1,1"/>
<rect x="855" y="9" width="2" height="2" fill="#555"/>
<rect x="859" y="13" width="7" height="1.5" fill="#555"/><rect x="861.8" y="13" width="1.6" height="8" fill="#555"/>
<polygon points="883,13.5 886.5,10 890,13.5" fill="#444"/><polygon points="890,19 893.5,23 897,19" fill="#444"/>
<polyline points="885,16 887.5,18.5 892,14" fill="none" stroke="#444" stroke-width="1.3"/>
<polygon points="904,14 909,14 906.5,17" fill="#000"/>
<rect x="915" y="5" width="1" height="21" fill="#a0a0a0"/>
<rect x="916" y="5" width="1" height="21" fill="#ffffff"/>
<rect x="919" y="6" width="3" height="1" fill="#a8a8a8"/>
<rect x="919" y="8" width="3" height="1" fill="#a8a8a8"/>
<rect x="919" y="10" width="3" height="1" fill="#a8a8a8"/>
<rect x="919" y="12" width="3" height="1" fill="#a8a8a8"/>
<rect x="919" y="14" width="3" height="1" fill="#a8a8a8"/>
<rect x="919" y="16" width="3" height="1" fill="#a8a8a8"/>
<rect x="919" y="18" width="3" height="1" fill="#a8a8a8"/>
<rect x="919" y="20" width="3" height="1" fill="#a8a8a8"/>
<rect x="919" y="22" width="3" height="1" fill="#a8a8a8"/>
<rect x="919" y="24" width="3" height="1" fill="#a8a8a8"/>
<text x="930.3" y="20" textLength="13.2" lengthAdjust="spacingAndGlyphs" style="font-family:'Liberation Sans', sans-serif;font-size:10px;fill:#000">M1</text>
<text x="958.3" y="20" textLength="13.5" lengthAdjust="spacingAndGlyphs" style="font-family:'Liberation Sans', sans-serif;font-size:10px;fill:#000">M5</text>
<text x="984.7" y="20" textLength="17.8" lengthAdjust="spacingAndGlyphs" style="font-family:'Liberation Sans', sans-serif;font-size:10px;fill:#000">M15</text>
<text x="1012.2" y="20" textLength="18.3" lengthAdjust="spacingAndGlyphs" style="font-family:'Liberation Sans', sans-serif;font-size:10px;fill:#000">M30</text>
<text x="1043.3" y="20" textLength="12.2" lengthAdjust="spacingAndGlyphs" style="font-family:'Liberation Sans', sans-serif;font-size:10px;fill:#000">H1</text>
<rect x="1065" y="4" width="25" height="22" fill="#f8f8f8"/>
<rect x="1065" y="4" width="25" height="1" fill="#a0a0a0"/>
<rect x="1065" y="4" width="1" height="22" fill="#a0a0a0"/>
<rect x="1065" y="26" width="26" height="1" fill="#ffffff"/>
<rect x="1090" y="4" width="1" height="23" fill="#ffffff"/>
<text x="1070.3" y="20" textLength="13.2" lengthAdjust="spacingAndGlyphs" style="font-family:'Liberation Sans', sans-serif;font-size:10px;fill:#000">H4</text>
<text x="1099.4" y="20" textLength="12.1" lengthAdjust="spacingAndGlyphs" style="font-family:'Liberation Sans', sans-serif;font-size:10px;fill:#000">D1</text>
<text x="1126.7" y="20" textLength="14.8" lengthAdjust="spacingAndGlyphs" style="font-family:'Liberation Sans', sans-serif;font-size:10px;fill:#000">W1</text>
<text x="1153.5" y="20" textLength="15" lengthAdjust="spacingAndGlyphs" style="font-family:'Liberation Sans', sans-serif;font-size:10px;fill:#000">MN</text>
<rect x="1176" y="5" width="1" height="21" fill="#a0a0a0"/>
<rect x="1177" y="5" width="1" height="21" fill="#ffffff"/>
<circle cx="1646.5" cy="13" r="3.8" fill="#fff" stroke="#2a60d0" stroke-width="1.4"/>
<line x1="1644" y1="16" x2="1639.5" y2="20.5" stroke="#2a60d0" stroke-width="2.2"/>
<polygon points="1665,21 1666.5,25 1669,21.5" fill="#999"/>
<ellipse cx="1669" cy="18" rx="6" ry="4.5" fill="#e8e8ee" stroke="#aaa" stroke-width="1"/>
<circle cx="1677.5" cy="13.2" r="8.2" fill="#e03a20"/>
<text x="1673.6" y="18" style="font-family:'Liberation Sans', sans-serif;font-size:12.5px;font-weight:bold;fill:#fff">1</text>
</svg>
</body></html>
